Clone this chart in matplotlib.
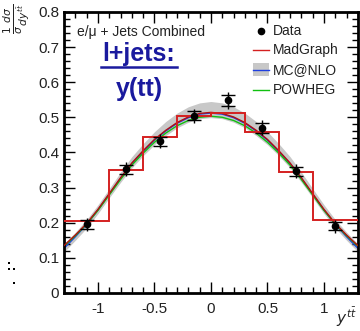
import matplotlib
matplotlib.use("Agg")
import matplotlib.pyplot as plt
from matplotlib.patches import Rectangle
from matplotlib.ticker import MultipleLocator

plt.rcParams.update({"font.family": ["Liberation Sans", "DejaVu Sans"], "mathtext.fontset": "dejavusans"})

# MadGraph histogram (bin edges / contents)
bin_edges = [-1.3, -0.9, -0.6, -0.3, 0.0, 0.3, 0.6, 0.9, 1.3]
mg_hist = [0.205, 0.350, 0.445, 0.504, 0.512, 0.458, 0.345, 0.207]

# data points
data_x = [-1.1, -0.75, -0.45, -0.15, 0.15, 0.45, 0.75, 1.1]
data_y = [0.195, 0.352, 0.432, 0.505, 0.548, 0.470, 0.346, 0.190]
data_stat = [0.012, 0.013, 0.013, 0.013, 0.016, 0.014, 0.013, 0.012]
data_tot = [0.018, 0.020, 0.020, 0.020, 0.024, 0.021, 0.020, 0.018]

# smooth predictions
curve_x = [-1.3, -1.2, -1.1, -1.0, -0.9, -0.8, -0.7, -0.6, -0.5, -0.4, -0.3, -0.2, -0.1,
           0.0, 0.1, 0.2, 0.3, 0.4, 0.5, 0.6, 0.7, 0.8, 0.9, 1.0, 1.1, 1.2, 1.3]
madgraph = [0.135, 0.165, 0.198, 0.238, 0.283, 0.328, 0.370, 0.405, 0.437, 0.463, 0.485, 0.501, 0.511,
            0.514, 0.511, 0.501, 0.485, 0.463, 0.437, 0.405, 0.370, 0.328, 0.283, 0.238, 0.198, 0.165, 0.135]
mcatnlo = [0.127, 0.160, 0.195, 0.236, 0.281, 0.326, 0.368, 0.403, 0.435, 0.461, 0.483, 0.499, 0.509,
           0.512, 0.509, 0.499, 0.483, 0.461, 0.435, 0.403, 0.368, 0.326, 0.281, 0.236, 0.195, 0.160, 0.127]
mcatnlo_lo = [0.117, 0.150, 0.185, 0.226, 0.271, 0.315, 0.356, 0.391, 0.422, 0.448, 0.470, 0.486, 0.496,
              0.499, 0.496, 0.486, 0.470, 0.448, 0.422, 0.391, 0.356, 0.315, 0.271, 0.226, 0.185, 0.150, 0.117]
mcatnlo_hi = [0.140, 0.173, 0.209, 0.251, 0.297, 0.344, 0.388, 0.425, 0.459, 0.488, 0.512, 0.530, 0.541,
              0.545, 0.541, 0.530, 0.512, 0.488, 0.459, 0.425, 0.388, 0.344, 0.297, 0.251, 0.209, 0.173, 0.140]
powheg = [0.133, 0.163, 0.196, 0.235, 0.279, 0.323, 0.364, 0.398, 0.429, 0.455, 0.476, 0.491, 0.500,
          0.503, 0.500, 0.491, 0.476, 0.455, 0.429, 0.398, 0.364, 0.323, 0.279, 0.235, 0.196, 0.163, 0.133]

fig = plt.figure(figsize=(3.6, 3.31), dpi=100)
ax = fig.add_axes([0.178, 0.115, 0.816, 0.849])

ax.fill_between(curve_x, mcatnlo_lo, mcatnlo_hi, color="#c8c8c8", lw=0, zorder=1)
ax.plot(curve_x, mcatnlo, color="#1f3fe0", lw=1.0, zorder=2)
ax.plot(curve_x, powheg, color="#10c010", lw=1.0, zorder=2)
ax.plot(curve_x, madgraph, color="#b01010", lw=1.0, zorder=3)
ax.stairs(mg_hist, bin_edges, baseline=None, color="#d42020", lw=1.4, zorder=3)

ax.errorbar(data_x, data_y, yerr=data_tot, fmt="none", ecolor="black", elinewidth=1.0,
            capsize=0, zorder=4)
ax.errorbar(data_x, data_y, yerr=data_stat, fmt="o", color="black", ms=4.5, elinewidth=1.0,
            capsize=5, capthick=1.0, zorder=5)

ax.set_xlim(-1.3, 1.3)
ax.set_ylim(0, 0.8)
ax.xaxis.set_major_locator(MultipleLocator(0.5))
ax.xaxis.set_minor_locator(MultipleLocator(0.1))
ax.yaxis.set_major_locator(MultipleLocator(0.1))
ax.yaxis.set_minor_locator(MultipleLocator(0.02))
ax.tick_params(which="both", direction="in", top=True, right=True, labelsize=11, width=1.0)
ax.tick_params(which="major", length=8)
ax.tick_params(which="minor", length=4)
ax.set_xticklabels([])
for xv, lab in [(-1, "-1"), (-0.5, "-0.5"), (0, "0"), (0.5, "0.5"), (1, "1")]:
    ax.text(xv, -0.025, lab, ha="center", va="top", fontsize=11, color="#222222")
ax.set_yticks([0, 0.1, 0.2, 0.3, 0.4, 0.5, 0.6, 0.7, 0.8])
ax.set_yticklabels(["0", "0.1", "0.2", "0.3", "0.4", "0.5", "0.6", "0.7", "0.8"], color="#222222")
for s in ax.spines.values():
    s.set_linewidth(2.0)

ax.text(0.045, 0.955, "e/\u03bc + Jets Combined", transform=ax.transAxes, fontsize=10,
        ha="left", va="top", color="#222222")
ax.text(0.255, 0.852, "l+jets:", transform=ax.transAxes, fontsize=18, fontweight="bold",
        color="#1a1a9e", ha="center", va="center")
ax.plot([0.125, 0.385], [0.803, 0.803], transform=ax.transAxes, color="#1a1a9e", lw=1.8)
ax.text(0.255, 0.724, "y(tt)", transform=ax.transAxes, fontsize=18, fontweight="bold",
        color="#1a1a9e", ha="center", va="center")

# legend
lx0, lx1, ltx = 0.643, 0.697, 0.71
ly = [0.932, 0.865, 0.794, 0.722]
ax.plot([0.67], [ly[0]], "o", color="black", ms=4.5, transform=ax.transAxes)
ax.plot([lx0, lx1], [ly[1]] * 2, color="#d42020", lw=1.0, transform=ax.transAxes)
ax.add_patch(Rectangle((lx0, ly[2] - 0.023), lx1 - lx0, 0.046, transform=ax.transAxes,
                       color="#c8c8c8", lw=0))
ax.plot([lx0, lx1], [ly[2]] * 2, color="#1f3fe0", lw=1.0, transform=ax.transAxes)
ax.plot([lx0, lx1], [ly[3]] * 2, color="#10c010", lw=1.0, transform=ax.transAxes)
for y, lab in zip(ly, ["Data", "MadGraph", "MC@NLO", "POWHEG"]):
    ax.text(ltx, y, lab, transform=ax.transAxes, fontsize=10, ha="left", va="center",
            color="#222222")

fig.text(0.045, 0.99, r"$\frac{1}{\sigma}\frac{d\sigma}{dy^{t\bar{t}}}$", rotation=90,
         ha="center", va="top", fontsize=11, color="#222222")
fig.text(0.99, 0.005, r"$y^{t\bar{t}}$", ha="right", va="bottom", fontsize=11, color="#222222")

for px, py in [(8, 263), (8, 269), (13, 269), (13, 283)]:
    fig.add_artist(Rectangle((px / 360, 1 - (py + 1) / 331), 2 / 360, 2 / 331,
                             transform=fig.transFigure, color="black", lw=0))

fig.savefig("out.png", dpi=100)
